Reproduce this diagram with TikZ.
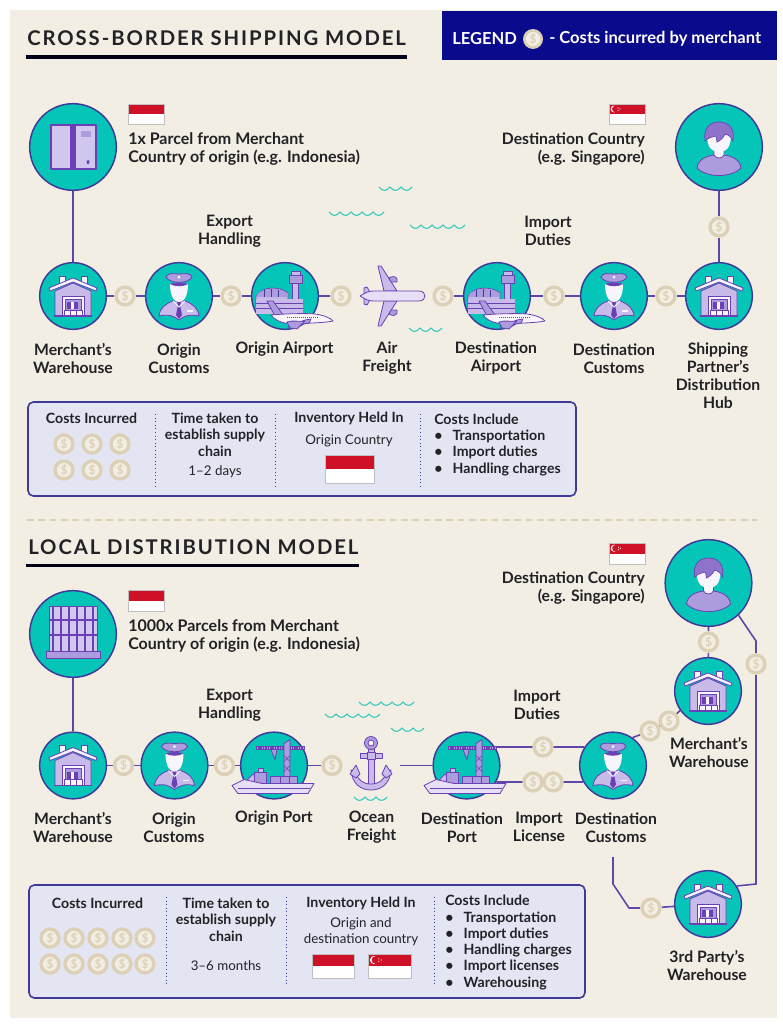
\documentclass[tikz,border=0pt]{standalone}
\usepackage{fontspec}
\setmainfont{Lato}
\usetikzlibrary{calc}
\pgfdeclarelayer{bg}\pgfdeclarelayer{conn}
\pgfsetlayers{bg,conn,main}
\definecolor{beige}{HTML}{F3EEE4}
\definecolor{navy}{HTML}{0A0A8C}
\definecolor{tealc}{HTML}{05C4B8}
\definecolor{ln}{HTML}{3F3A98}
\definecolor{cn}{HTML}{5F46A8}
\definecolor{lil}{HTML}{C8BBEA}
\definecolor{lilp}{HTML}{E6DFF6}
\definecolor{lild}{HTML}{AD9CDD}
\definecolor{pur}{HTML}{6A40B4}
\definecolor{wht}{HTML}{F8F6FC}
\definecolor{coinout}{HTML}{DCD1B6}
\definecolor{coinin}{HTML}{F2EEE3}
\definecolor{boxf}{HTML}{E3E5F3}
\definecolor{ink}{HTML}{222126}
\definecolor{red1}{HTML}{CE1126}
\definecolor{wav}{HTML}{35C9B9}
\newfontfamily\ttl[LetterSpace=9.5]{Lato}
\newcommand\lblf{\fontsize{11.8}{13.5}\bfseries\selectfont}
\newcommand\notef{\fontsize{12}{13.6}\bfseries\selectfont}
\newcommand\legf{\fontsize{12.4}{14}\bfseries\selectfont}
\newcommand\regf{\fontsize{10}{11.6}\selectfont}
\newcommand\bulf{\fontsize{10.6}{12.2}\bfseries\selectfont}
\newcommand\bu{\makebox[13.8pt][l]{•}}
\tikzset{x=0.75pt,y=-0.75pt,
 big/.style={circle,draw=ln,line width=1.1pt,fill=tealc,minimum size=65pt,inner sep=0pt},
 mid/.style={circle,draw=ln,line width=1.1pt,fill=tealc,minimum size=50pt,inner sep=0pt},
 coin/.style={circle,fill=coinout,minimum size=16pt,inner sep=0pt,text=coinout,font=\fontsize{9}{9}\bfseries\selectfont,
   path picture={\fill[coinin] (path picture bounding box.center) circle (5.3pt);}},
 conn/.style={draw=cn,line width=1.2pt},
 lbl/.style={font=\lblf,text=ink,align=center,inner sep=0pt,yshift=-0.2pt},
 lbll/.style={font=\notef,text=ink,align=left,inner sep=0pt,yshift=-0.9pt},
 lblr/.style={font=\notef,text=ink,align=right,inner sep=0pt,yshift=-0.9pt},
 reg/.style={font=\regf,text=ink,align=center,inner sep=0pt,yshift=-0.9pt},
 bul/.style={font=\bulf,text=ink,align=left,inner sep=0pt},
 ic/.style={draw=pur,line width=0.6pt,fill=lil,line join=round},
 icd/.style={draw=pur,line width=0.6pt,fill=lild,line join=round},
 icw/.style={draw=pur,line width=0.6pt,fill=wht,line join=round},
 wave/.style={draw=wav,line width=0.8pt},
 infobox/.style={draw=ln,line width=1.2pt,fill=boxf,rounded corners=4pt},
 divd/.style={draw=ln,line width=0.7pt,dotted},
 titleu/.style={draw=black!90!blue,line width=2.4pt},
 tit/.style={font=\fontsize{15.2}{15.2}\ttl\bfseries,text=ink,inner sep=0pt,anchor=west},
}
\newcommand\wavy[3]{\draw[wave] (#1,#2) foreach \i in {1,...,#3} { .. controls +(3,4.5) and +(-3,4.5) .. ++(11,0)};}
\newcommand\flagid[4]{%
 \fill[white] (#1,#2) rectangle (#3,#4);
 \fill[red1] (#1,#2) rectangle (#3,{(#2+#4)/2});
 \draw[black!25,line width=0.4pt] (#1,#2) rectangle (#3,#4);}
\newcommand\flagsg[4]{%
 \flagid{#1}{#2}{#3}{#4}
 \fill[white] ({#1+(#4-#2)*0.25},{#2+(#4-#2)*0.25}) circle ({(#4-#2)*0.17});
 \fill[red1] ({#1+(#4-#2)*0.31},{#2+(#4-#2)*0.25}) circle ({(#4-#2)*0.16});
 \fill[white] ({#1+(#4-#2)*0.45},{#2+(#4-#2)*0.2}) circle (0.6) ({#1+(#4-#2)*0.45},{#2+(#4-#2)*0.32}) circle (0.6) ({#1+(#4-#2)*0.55},{#2+(#4-#2)*0.25}) circle (0.6);}
\newcommand\warehouse[2]{\begin{scope}[shift={(#1,#2)}]
 \fill[wht,draw=pur,line width=0.5pt] (-14,-20) rectangle (-8,-12) (8,-20) rectangle (14,-12);
 \path[ic] (-18,-5) -- (0,-13) -- (18,-5) -- (18,20) -- (-18,20) -- cycle;
 \path[icw] (-24,-8) -- (0,-18) -- (24,-8) -- (23,-5) -- (0,-14) -- (-23,-5) -- cycle;
 \path[icw] (-11,0) rectangle (11,20);
 \path[icd] (-8,3) rectangle (8,20);
 \fill[pur] (-6,6) rectangle (5,13);
 \fill[wht] (-2,6) rectangle (1,13);
 \fill[wht,draw=pur,line width=0.3pt] (-9,14) rectangle (-3,20) (-3,14) rectangle (3,20) (3,14) rectangle (9,20);
 \draw[pur,line width=0.9pt] (-19,20) -- (19,20);
\end{scope}}
\newcommand\officer[2]{\begin{scope}[shift={(#1,#2)}]
 \path[ic] (-20,20) .. controls (-19,12) and (-14,8) .. (-6,5) -- (6,5) .. controls (14,8) and (19,12) .. (20,20) .. controls (10,18) and (5,20) .. (0,24) .. controls (-5,20) and (-10,18) .. (-20,20) -- cycle;
 \path[icw,draw=none] (-9,-12) .. controls (-9,0) and (-5,6) .. (0,6) .. controls (5,6) and (9,0) .. (9,-12) -- cycle;
 \path[icd] (-13,-19) .. controls (-11,-24) and (-5,-22) .. (0,-22) .. controls (5,-22) and (11,-24) .. (13,-19) .. controls (10,-12) and (-10,-12) .. (-13,-19) -- cycle;
 \fill[pur] (-9,-12) .. controls (-4,-9) and (4,-9) .. (9,-12) .. controls (5,-14) and (-5,-14) .. (-9,-12) -- cycle;
 \fill[wht] (0,-19) circle (1.5);
 \fill[pur] (-2,6) -- (2,6) -- (1.2,10) -- (3,19) -- (0,23) -- (-3,19) -- (-1.2,10) -- cycle;
 \draw[wht,line width=0.6pt] (-6,5) -- (0,11) -- (6,5);
 \fill[wht] (8,14) rectangle (14,15.5);
\end{scope}}
\newcommand\airport[2]{\begin{scope}[shift={(#1,#2)}]
 \path[ic] (7,-13) rectangle (13,6);
 \path[icd] (4,-21) rectangle (17,-13);
 \path[ic] (6,-25) rectangle (15,-21);
 \path[ic] (-29,12) -- (-29,0) .. controls (-22,-10) and (-6,-10) .. (3,-3) -- (3,12) -- cycle;
 \fill[lild] (-28.5,-1) .. controls (-22,-9) and (-6,-9) .. (2.5,-3) -- (2.5,1) -- (-28.5,1) -- cycle;
 \draw[ln,line width=0.4pt] (-14,-7) -- (-14,1) (-21,-6) -- (-21,1) (-7,-6) -- (-7,1);
 \fill[lil] (-29,3) rectangle (18,18);
 \draw[pur,line width=0.5pt] (-29,7) -- (18,7) (-29,12) -- (18,12);
 \path[icd] (-18,5) -- (-12,5) -- (-2,19) -- (-10,20) -- cycle;
 \path[icw] (-14,19) .. controls (-4,18) and (20,17) .. (30,18) .. controls (38,19) and (46,22) .. (48,25) .. controls (40,27) and (10,28) .. (0,27) .. controls (-6,26) and (-11,23) .. (-14,19) -- cycle;
 \draw[pur,line width=1.1pt,dash pattern=on 1pt off 0.5pt] (2,21.5) -- (34,21.5);
 \path[icd] (8,30) -- (24,27) -- (26,23) -- (20,24) -- (3,31) -- cycle;
 \path[icd] (2,26) .. controls (8,24) and (14,26) .. (20,25) -- (12,33) -- (5,32) -- cycle;
\end{scope}}
\newcommand\bigplane[2]{\begin{scope}[shift={(#1,#2)}]
 \path[ic] (-28,-8) -- (-25,-9) -- (-21,-2) -- (-25,1) -- (-28,-1) -- cycle;
 \path[ic] (-28,8) -- (-25,9) -- (-21,2) -- (-25,-1) -- (-28,1) -- cycle;
 \path[ic] (-14,-30) -- (-11,-30) -- (5,-5) -- (-8,-5) -- cycle;
 \path[ic] (-14,30) -- (-11,30) -- (5,5) -- (-8,5) -- cycle;
 \path[icd] (-3,-18) .. controls (0,-20) and (4,-20) .. (5,-17) -- (5,-14) -- (-1,-14) -- cycle;
 \path[icd] (-3,18) .. controls (0,20) and (4,20) .. (5,17) -- (5,14) -- (-1,14) -- cycle;
 \path[ic,fill=lilp] (-32,0) .. controls (-27,-3) and (-24,-5) .. (-18,-5) -- (27,-5) .. controls (35,-5) and (35,5) .. (27,5) -- (-18,5) .. controls (-24,5) and (-27,3) .. (-32,0) -- cycle;
\end{scope}}
\newcommand\ship[2]{\begin{scope}[shift={(#1,#2)}]
 \fill[pur] (14,-18) rectangle (18,-16);
 \path[icd] (-18,-19) -- (30,-19) -- (30,-16) -- (-18,-16) -- cycle;
 \draw[pur,line width=1pt,dash pattern=on 1.2pt off 0.6pt] (-16,-17.5) -- (29,-17.5);
 \path[icd] (10,-22) -- (16,-26) -- (16,14) -- (10,14) -- cycle;
 \draw[pur,line width=0.5pt] (10,-10) -- (16,-4) (16,-10) -- (10,-4) (10,0) -- (16,6) (16,0) -- (10,6);
 \path[icd] (-3,-16) -- (1,-6) -- (3,-16) -- cycle;
 \path[icd] (-4,11) rectangle (6,18) (6,11) rectangle (15,18) (15,11) rectangle (23,18);
 \path[ic] (-28,19) .. controls (-26,10) and (-20,7) .. (-10,7) -- (-10,19) -- cycle;
 \path[icd] (-20,7) rectangle (-8,19);
 \path[ic] (-16,3) rectangle (-11,7);
 \path[ic,fill=lilp] (-42,20) -- (-30,14) -- (-12,18) -- (40,18) -- (34,28) -- (-36,28) -- cycle;
 \draw[pur,line width=0.4pt] (-36,23) -- (36,23);
\end{scope}}
\newcommand\anchorico[2]{\begin{scope}[shift={(#1,#2)}]
 \path[ic] (-3,-20) rectangle (3,20);
 \path[ic] (-20,4) .. controls (-19,18) and (-10,24) .. (0,24) .. controls (10,24) and (19,18) .. (20,4) -- (15,7) .. controls (13,14) and (8,18) .. (0,18) .. controls (-8,18) and (-13,14) .. (-15,7) -- cycle;
 \path[ic] (-21,8) -- (-15,-1) -- (-11,8) -- (-15,12) -- cycle;
 \path[ic] (21,8) -- (15,-1) -- (11,8) -- (15,12) -- cycle;
 \path[ic] (-11,-13) rectangle (11,-8);
 \path[ic] (-4,-14) rectangle (4,-7);
 \path[icd] (0,-23) circle (6.5);
 \path[icw] (0,-23) circle (3);
\end{scope}}
\newcommand\person[2]{\begin{scope}[shift={(#1,#2)}]
 \path[icd] (-22,21) .. controls (-21,12) and (-12,9) .. (-5,8) -- (5,8) .. controls (12,9) and (21,12) .. (22,21) .. controls (12,31) and (-12,31) .. (-22,21) -- cycle;
 \path[icw] (-5,1) -- (-5,8) .. controls (-3,12) and (3,12) .. (5,8) -- (5,1) -- cycle;
 \path[icw,draw=none] (-12,-12) .. controls (-12,2) and (-6,5) .. (0,5) .. controls (6,5) and (12,2) .. (12,-12) -- cycle;
 \path[fill=pur!45!lild,draw=pur,line width=0.5pt] (-14,-6) .. controls (-16,-20) and (-8,-25) .. (0,-25) .. controls (10,-25) and (16,-18) .. (14,-6) .. controls (12,-10) and (10,-12) .. (6,-13) .. controls (4,-8) and (0,-6) .. (-2,-5) -- (-3,-11) .. controls (-6,-10) and (-10,-10) .. (-14,-6) -- cycle;
\end{scope}}
\newcommand\parcelico[2]{\begin{scope}[shift={(#1,#2)}]
 \path[ic,fill=lil!70!lilp,line width=0.8pt] (-22,-22) rectangle (23,22);
 \fill[pur] (-3,-22) rectangle (3,22);
 \fill[lild] (8,-16) rectangle (18,-10);
 \fill[pur] (15,13) -- (17,15) -- (15.8,15) -- (15.8,17) -- (14.2,17) -- (14.2,15) -- (13,15) -- cycle;
\end{scope}}
\newcommand\palletico[2]{\begin{scope}[shift={(#1,#2)}]
 \path[ic,fill=lil!70!lilp,line width=0.6pt] (-24,-27) rectangle (24,18);
 \foreach \q in {-20,-12,-4,4,12,20} {\fill[pur] ({\q-0.7},-27) rectangle ({\q+0.7},18);}
 \draw[pur,line width=0.8pt] (-24,-13) -- (24,-13) (-24,2) -- (24,2);
 \fill[lild,draw=pur,line width=0.6pt] (-27,18) rectangle (27,25);
\end{scope}}
\begin{document}
\begin{tikzpicture}
\useasboundingbox (0,0) rectangle (782,1024);
\begin{pgfonlayer}{bg}
 \fill[white] (0,0) rectangle (782,1024);
 \fill[beige] (10,10) rectangle (777,1018);
 \fill[navy] (442,11) rectangle (777,60);
\end{pgfonlayer}
% titles
\node[tit] (t1) at (27,38) {CROSS-BORDER SHIPPING MODEL};
\node[tit] (t2) at (28,547) {LOCAL DISTRIBUTION MODEL};
\draw[titleu] (26,57) -- (407,57);
\draw[titleu] (26,565.5) -- (359,565.5);
\node[lbl,font=\legf,text=white,anchor=west] (leg1) at (452,38) {LEGEND};
\node[coin,minimum size=15pt] (legc) at (533,39) {\$};
\node[lbl,font=\legf,text=white,anchor=west] (leg2) at (549,38) {- Costs incurred by merchant};
% ---------- section 1
\node[big] (parcel1) at (73,147) {};
\node[big] (dest1) at (719,147) {};
\node[mid] (wh1) at (73,296) {};
\node[mid] (cu1) at (179,296) {};
\node[mid] (ap1) at (285,296) {};
\node[mid] (ap2) at (497,296) {};
\node[mid] (cu2) at (614,296) {};
\node[mid] (hub) at (719,296) {};
\node[coin] (a1) at (125,296) {\$};
\node[coin] (a2) at (231,296) {\$};
\node[coin] (a3) at (341,296) {\$};
\node[coin] (a4) at (443,296) {\$};
\node[coin] (a5) at (554,296) {\$};
\node[coin] (a6) at (666,296) {\$};
\node[coin] (a7) at (719,227) {\$};
\begin{pgfonlayer}{conn}
 \draw[conn] (parcel1) -- (wh1);
 \draw[conn] (wh1) -- (a1) -- (cu1) -- (a2) -- (ap1) -- (a3);
 \draw[conn] (a4) -- (ap2) -- (a5) -- (cu2) -- (a6) -- (hub) -- (a7) -- (dest1);
\end{pgfonlayer}
\parcelico{73}{147}
\person{719}{147}
\warehouse{73}{296}
\officer{179}{296}
\airport{285}{296}
\bigplane{392}{296}
\airport{497}{296}
\officer{614}{296}
\warehouse{719}{296}
\wavy{379}{187}{3}
\wavy{329}{212}{5}
\wavy{410}{225}{5}
\wavy{409}{328}{3}
\flagid{128}{104}{164}{124}
\flagsg{609}{104}{645}{124}
\node[lbll,anchor=west] (n1) at (128,147.5) {1x Parcel from Merchant\\Country of origin (e.g. Indonesia)};
\node[lblr,font=\lblf,anchor=east] (n2) at (645,147.5) {Destination Country\\(e.g. Singapore)};
\node[lbl] (n3) at (229.5,231) {Export\\Handling};
\node[lbl] (n4) at (548,231) {Import\\Duties};
\node[lbl] (n5) at (73,358) {Merchant’s\\Warehouse};
\node[lbl] (n6) at (179,358) {Origin\\Customs};
\node[lbl] (n7) at (284.5,349) {Origin Airport};
\node[lbl] (n8) at (387,358) {Air\\Freight};
\node[lbl] (n9) at (496,358) {Destination\\Airport};
\node[lbl] (n10) at (614,358) {Destination\\Customs};
\node[lbl] (n11) at (718,375.5) {Shipping\\Partner’s\\Distribution\\Hub};
% info box 1
\draw[infobox] (28,402) rectangle (576,496);
\draw[divd] (155.5,414) -- (155.5,487);
\draw[divd] (275,414) -- (275,487);
\draw[divd] (420,414) -- (420,487);
\node[lbl,font=\bulf] (b1a) at (91.5,418) {Costs Incurred};
\foreach \cx/\cnm in {64/p,92/q,120/r}{
 \node[coin] (b1\cnm1) at (\cx,444) {\$};
 \node[coin] (b1\cnm2) at (\cx,470) {\$};
}
\node[lbl,font=\bulf] (b1b) at (215,434.5) {Time taken to\\establish supply\\chain};
\node[reg] (b1c) at (215,471) {1–2 days};
\node[lbl,font=\bulf] (b1d) at (349,418) {Inventory Held In};
\node[reg] (b1e) at (349,440) {Origin Country};
\flagid{325}{455}{374}{483}
\node[bul,anchor=north west] (b1f) at (434,413.6) {Costs Include\\\bu Transportation\\\bu Import duties\\\bu Handling charges};
% dashed
\draw[draw=coinout,line width=1pt,dash pattern=on 5pt off 3.5pt] (27,520) -- (757,520);
% ---------- section 2
\node[big] (parcel2) at (73,634) {};
\node[big] (dest2) at (708.5,583) {};
\node[mid] (wh2) at (73,765.5) {};
\node[mid] (cu3) at (174.5,765.5) {};
\node[mid] (pt1) at (274,765.5) {};
\coordinate (anc) at (400,765.5);
\node[mid] (pt2) at (466.5,765.5) {};
\node[mid] (cu4) at (613,765.5) {};
\node[mid] (wh3) at (708,691) {};
\node[mid] (wh4) at (708,904) {};
\node[coin] (d1) at (123.5,765.5) {\$};
\node[coin] (d2) at (224.5,765.5) {\$};
\node[coin] (d3) at (332,765.5) {\$};
\node[coin] (d4) at (543,747) {\$};
\node[coin] (d5) at (533,782) {\$};
\node[coin] (d6) at (553,782) {\$};
\node[coin] (d7) at (650,731) {\$};
\node[coin] (d8) at (669,721) {\$};
\node[coin] (d9) at (708.5,642) {\$};
\node[coin] (d10) at (756,664) {\$};
\node[coin] (d11) at (651,908) {\$};
\coordinate (k1) at (756,641);
\coordinate (k2) at (756,884);
\coordinate (k3) at (613,857);
\coordinate (k4) at (613,884);
\coordinate (k5) at (629,908);
\begin{pgfonlayer}{conn}
 \draw[conn] (parcel2) -- (wh2);
 \draw[conn] (wh2) -- (d1) -- (cu3) -- (d2) -- (pt1) -- (d3);
 \draw[conn] (anc) -- (pt2);
 \draw[conn] (pt2.33) -- (d4.center) -- (cu4.147);
 \draw[conn] (pt2.-29) -- (d5.center) -- (d6.center) -- (cu4.-151);
 \draw[conn] (cu4.55) -- (d7.center) -- (d8.center) -- (wh3.-145);
 \draw[conn] (wh3) -- (d9) -- (dest2);
 \draw[conn] (dest2.-47) -- (k1) -- (d10) -- (k2) -- (wh4.32);
 \draw[conn] (k3) -- (k4) -- (k5) -- (d11) -- (wh4);
\end{pgfonlayer}
\palletico{73}{633}
\person{708.5}{583}
\warehouse{73}{765.5}
\officer{174.5}{765.5}
\ship{274}{765.5}
\anchorico{371}{766}
\ship{466}{765.5}
\officer{613}{765.5}
\warehouse{708}{691}
\warehouse{708}{904}
\wavy{359}{702}{5}
\wavy{325}{714}{5}
\wavy{391}{728}{3}
\wavy{354}{797}{3}
\flagid{128}{590}{164}{611}
\flagsg{609}{543}{645}{564}
\node[lbll,anchor=west] (m1) at (128,635) {1000x Parcels from Merchant\\Country of origin (e.g. Indonesia)};
\node[lblr,font=\lblf,anchor=east] (m2) at (645,587) {Destination Country\\(e.g. Singapore)};
\node[lbl] (m3) at (229.5,705) {Export\\Handling};
\node[lbl] (m4) at (537,705) {Import\\Duties};
\node[lbl] (m5) at (73,827) {Merchant’s\\Warehouse};
\node[lbl] (m6) at (174,827) {Origin\\Customs};
\node[lbl] (m7) at (274,818) {Origin Port};
\node[lbl] (m8) at (371.5,827) {Ocean\\Freight};
\node[lbl] (m9) at (462,827) {Destination\\Port};
\node[lbl] (m10) at (539,827) {Import\\License};
\node[lbl] (m11) at (616,827) {Destination\\Customs};
\node[lbl] (m12) at (709,752) {Merchant’s\\Warehouse};
\node[lbl] (m13) at (707,965.5) {3rd Party’s\\Warehouse};
% info box 2
\draw[infobox] (29,885) rectangle (585,998);
\draw[divd] (166,897) -- (166,985);
\draw[divd] (286,897) -- (286,985);
\draw[divd] (434.5,897) -- (434.5,985);
\node[lbl,font=\bulf] (b2a) at (97.5,903) {Costs Incurred};
\foreach \cx/\cnm in {50/p,74/q,98/r,122/s,145/t}{
 \node[coin] (b2\cnm1) at (\cx,938) {\$};
 \node[coin] (b2\cnm2) at (\cx,964) {\$};
}
\node[lbl,font=\bulf] (b2b) at (226,919.5) {Time taken to\\establish supply\\chain};
\node[reg] (b2c) at (226,964) {3–6 months};
\node[lbl,font=\bulf] (b2d) at (361,903) {Inventory Held In};
\node[reg] (b2e) at (361,930.5) {Origin and\\destination country};
\flagid{312}{954}{354}{978}
\flagsg{368}{954}{411}{978}
\node[bul,anchor=north west] (b2f) at (445,895) {Costs Include\\\bu Transportation\\\bu Import duties\\\bu Handling charges\\\bu Import licenses\\\bu Warehousing};
\end{tikzpicture}
\end{document}
